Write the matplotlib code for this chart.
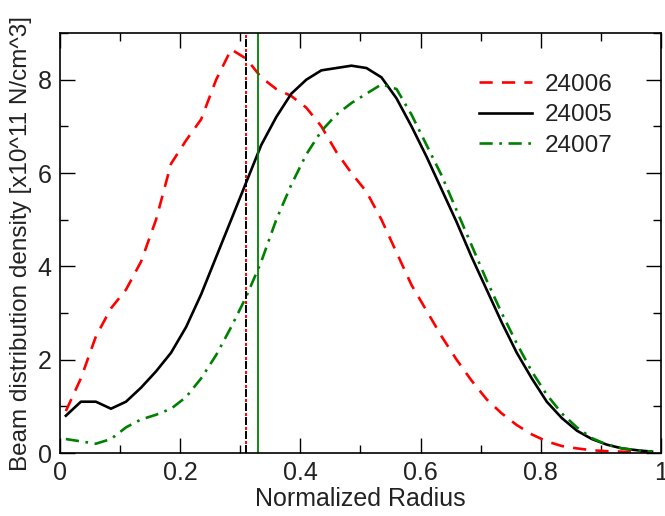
import numpy as np
import matplotlib.pyplot as plt
from matplotlib.ticker import MultipleLocator

plt.rcParams['font.family'] = ['Liberation Sans', 'DejaVu Sans']

# radial grid
r = [0.01, 0.035, 0.06, 0.085, 0.11, 0.135, 0.16, 0.185, 0.21, 0.235,
     0.26, 0.285, 0.31, 0.335, 0.36, 0.385, 0.41, 0.435, 0.46, 0.485,
     0.51, 0.535, 0.56, 0.585, 0.61, 0.635, 0.66, 0.685, 0.71, 0.735,
     0.76, 0.785, 0.81, 0.835, 0.86, 0.885, 0.91, 0.935, 0.96, 0.985]

# shot 24006
d_24006 = [0.9, 1.6, 2.5, 3.1, 3.5, 4.1, 5.0, 6.2, 6.7, 7.15,
           8.0, 8.65, 8.45, 8.05, 7.8, 7.65, 7.4, 7.0, 6.45, 6.0,
           5.6, 5.0, 4.3, 3.6, 3.05, 2.5, 2.0, 1.55, 1.15, 0.85,
           0.6, 0.4, 0.25, 0.15, 0.1, 0.06, 0.04, 0.03, 0.02, 0.01]

# shot 24005
d_24005 = [0.8, 1.1, 1.1, 0.95, 1.1, 1.4, 1.75, 2.15, 2.7, 3.4,
           4.2, 5.0, 5.8, 6.6, 7.2, 7.7, 8.0, 8.2, 8.25, 8.3,
           8.25, 8.05, 7.6, 7.0, 6.35, 5.65, 4.95, 4.2, 3.5, 2.8,
           2.15, 1.6, 1.1, 0.75, 0.48, 0.3, 0.18, 0.1, 0.06, 0.03]

# shot 24007
d_24007 = [0.3, 0.25, 0.2, 0.3, 0.55, 0.72, 0.82, 0.95, 1.2, 1.6,
           2.1, 2.7, 3.35, 4.1, 5.0, 5.75, 6.4, 6.9, 7.25, 7.5,
           7.7, 7.9, 7.8, 7.25, 6.6, 5.95, 5.2, 4.45, 3.7, 3.0,
           2.35, 1.75, 1.25, 0.85, 0.55, 0.32, 0.18, 0.1, 0.06, 0.03]

# vertical markers
r_mark_black = 0.31
r_mark_green = 0.33

fig = plt.figure(figsize=(6.65, 5.16), dpi=100)
ax = fig.add_axes([0.09, 0.122, 0.904, 0.814])

ax.plot(r, d_24006, color='red', lw=1.9, dashes=(5, 3.5), label='24006')
ax.plot(r, d_24005, color='black', lw=1.9, label='24005')
ax.plot(r, d_24007, color='green', lw=1.9, dashes=(5, 2.5, 1, 2.5), label='24007')

# marker lines (black/red dashed pair and green solid)
ax.axvline(r_mark_black, color='black', lw=1.4, linestyle=(0, (4.1, 3.1)))
ax.axvline(r_mark_black, color='red', lw=1.4, linestyle=(2.6, (1.6, 5.6)))
ax.axvline(r_mark_green, color='green', lw=1.3)

ax.set_xlim(0, 1)
ax.set_ylim(0, 9)
ax.xaxis.set_minor_locator(MultipleLocator(0.1))
ax.yaxis.set_major_locator(MultipleLocator(2))
ax.yaxis.set_minor_locator(MultipleLocator(1))
ax.set_xticks([0, 0.2, 0.4, 0.6, 0.8, 1.0])
ax.set_xticklabels(['0', '0.2', '0.4', '0.6', '0.8', '1'])
ax.tick_params(which='both', direction='in', top=True, right=True,
               labelsize=18, labelcolor='#222222', width=1)
ax.tick_params(which='major', length=11, pad=6)
ax.tick_params(which='minor', length=6)
for s in ax.spines.values():
    s.set_linewidth(1.2)

ax.set_xlabel('Normalized Radius', fontsize=18, color='#222222', labelpad=1)
ax.set_ylabel('Beam distribution density [x10^11 N/cm^3]', fontsize=17.5,
              color='#222222', labelpad=4)

ax.legend(loc='upper right', bbox_to_anchor=(0.955, 0.955), frameon=False,
          fontsize=17.5, handlelength=2.2, handletextpad=0.5, labelspacing=0.35,
          labelcolor='#222222')

fig.savefig('out.png', dpi=100)
